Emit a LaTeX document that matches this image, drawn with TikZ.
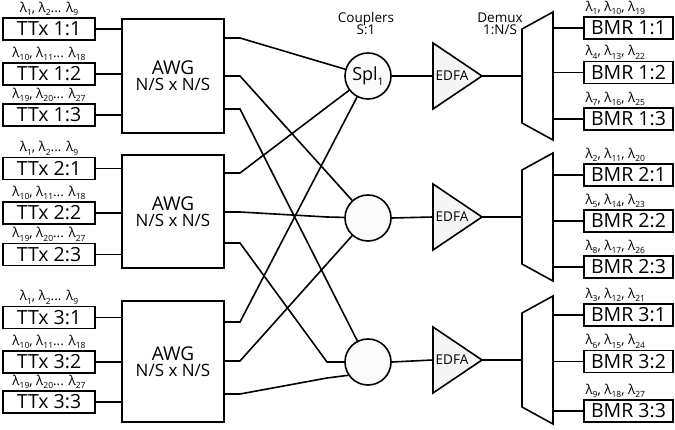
\documentclass[tikz,border=0pt]{standalone}
\usepackage{fontspec}
\setmainfont{Open Sans}
% wavelength with a lowered index
\newcommand\wl[1]{λ\raisebox{-0.5ex}{\fontsize{8.5}{8.5}\selectfont#1}}
\begin{document}
\begin{tikzpicture}[x=1pt,y=-1pt,line width=1.6pt,
  box/.style={draw,line width=1.6pt,fill=white,inner sep=0pt,
    minimum width=92pt,minimum height=22pt,font=\fontsize{19.5}{19.5}\selectfont},
  bmr/.style={box,minimum width=89pt},
  awg/.style={draw,line width=1.6pt,fill=white,minimum width=102pt,
    align=center,inner sep=0pt,font=\fontsize{19}{19}\selectfont},
  cpl/.style={draw,circle,line width=1.6pt,fill=black!2,minimum size=46pt,
    inner sep=0pt,font=\fontsize{18}{18}\selectfont},
  wdm/.style={font=\fontsize{13.5}{13.5}\selectfont,inner sep=0.5pt},
  small/.style={font=\fontsize{13.5}{15}\selectfont,inner sep=0pt,align=center},
  amp/.style={draw,line width=1.6pt,fill=black!4,line join=miter},
  dmx/.style={draw,line width=1.6pt,fill=white,line join=miter},
]
\useasboundingbox (0,0) rectangle (675,430);

% transmitters
\foreach \g/\ya/\yb/\yc in {1/29/74/115,2/168.5/213/254.5,3/317.5/362/402}{
  \node[box] (t\g1) at (49,\ya) {TTx \g:1};
  \node[box] (t\g2) at (49,\yb) {TTx \g:2};
  \node[box] (t\g3) at (49,\yc) {TTx \g:3};
  \node[wdm,anchor=south] (lt\g1) at (t\g1.north) {\wl{1}, \wl{2}... \wl{9}};
  \node[wdm,anchor=south] (lt\g2) at (t\g2.north) {\wl{10}, \wl{11}... \wl{18}};
  \node[wdm,anchor=south] (lt\g3) at (t\g3.north) {\wl{19}, \wl{20}... \wl{27}};
}

% AWGs
\node[awg,minimum height=114pt] (a1) at (173,76)
  {AWG\\[-3pt]{\fontsize{17}{17}\selectfont N/S x N/S}};
\node[awg,minimum height=113pt] (a2) at (173,211.5)
  {AWG\\[-3pt]{\fontsize{17}{17}\selectfont N/S x N/S}};
\node[awg,minimum height=121pt] (a3) at (173,361.5)
  {AWG\\[-3pt]{\fontsize{17}{17}\selectfont N/S x N/S}};

\foreach \g in {1,2,3}{
  \foreach \k in {1,2,3}{
    \draw (t\g\k.east) -- (t\g\k.east -| a\g.west);
  }
}

% AWG output ports and their first bends
\foreach \g/\ya/\yb/\yc in {1/38/76/109,2/173/212/243,3/322/361/394}{
  \coordinate (o\g1) at (224,\ya); \coordinate (p\g1) at (240,\ya);
  \coordinate (o\g2) at (224,\yb); \coordinate (p\g2) at (240,\yb);
  \coordinate (o\g3) at (224,\yc); \coordinate (p\g3) at (240,\yc);
}
\coordinate (q22) at (327,217);
\coordinate (q23) at (327,362);
\coordinate (q33) at (327,378);

% couplers
\node[cpl] (c1) at (368,76) {Spl\raisebox{-0.5ex}{\fontsize{10.5}{10.5}\selectfont 1}};
\node[cpl] (c2) at (368,218) {};
\node[cpl] (c3) at (368,362) {};
\node[small] (cl) at (366,23) {Couplers\\[-3pt]S:1};

\draw (o11) -- (p11) -- (c1);
\draw (o21) -- (p21) -- (c1);
\draw (o31) -- (p31) -- (c1);
\draw (o12) -- (p12) -- (c2);
\draw (o22) -- (p22) -- (q22) -- (c2);
\draw (o32) -- (p32) -- (c2);
\draw (o13) -- (p13) -- (c3);
\draw (o23) -- (p23) -- (q23) -- (c3);
\draw (o33) -- (p33) -- (q33) -- (c3.214);

% amplifiers and demultiplexers
\foreach \g/\r in {1/76,2/217,3/360}{
  \coordinate (e\g in) at (433,\r);
  \coordinate (e\g tip) at (482,\r);
  \draw[amp] (433,\r-33) -- (e\g tip) -- (433,\r+33) -- cycle;
  \node[small] (e\g) at (452,\r) {EDFA};
  \coordinate (d\g in) at (522,\r);
  \coordinate (d\g out) at (553,\r);
  \draw[dmx] (522,\r-47) -- (553,\r-64) -- (553,\r+64) -- (522,\r+47) -- cycle;
  \draw (c\g.east) -- (e\g in);
  \draw (e\g tip) -- (d\g in);
}
\node[small] (dl) at (500,24) {Demux\\[-3pt]1:N/S};

% receivers
\foreach \g/\ya/\yb/\yc in {1/28/72.5/119,2/175/221/267,3/315/361.5/411}{
  \node[bmr] (b\g1) at (628.5,\ya) {BMR \g:1};
  \node[bmr] (b\g2) at (628.5,\yb) {BMR \g:2};
  \node[bmr] (b\g3) at (628.5,\yc) {BMR \g:3};
  \foreach \k in {1,2,3}{
    \draw (b\g\k.west) -- (b\g\k.west -| d\g out);
  }
}
\foreach \g/\k/\a/\b/\c in {1/1/1/10/19,1/2/4/13/22,1/3/7/16/25,
                            2/1/2/11/20,2/2/5/14/23,2/3/8/17/26,
                            3/1/3/12/21,3/2/6/15/24,3/3/9/18/27}{
  \node[wdm,anchor=south west] (lb\g\k) at ([xshift=1pt]b\g\k.north west)
    {\wl{\a}, \wl{\b}, \wl{\c}};
}
\end{tikzpicture}
\end{document}
